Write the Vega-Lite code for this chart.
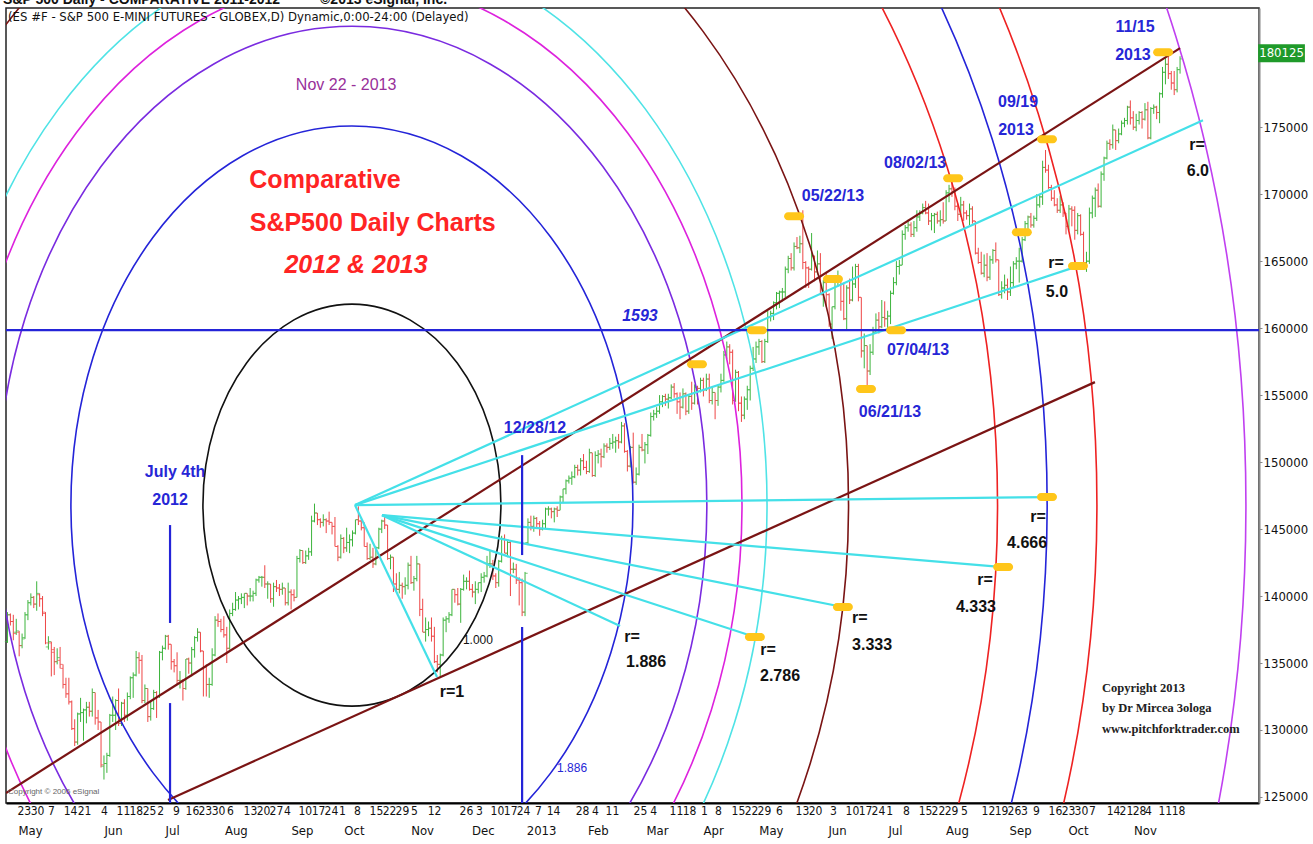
{
"$schema": "https://vega.github.io/schema/vega-lite/v6.json",
"width": 1253, "height": 795,
"autosize": {"type": "none"},
"padding": {"left": 6, "top": 8, "right": 54, "bottom": 41},
"background": "white",
"config": {"view": {"stroke": "#222", "strokeWidth": 1.5}, "axis": {"grid": false}, "font": "Liberation Sans"},
"datasets": {
"bars": [
{"i":-33,"o":1366,"h":1388,"l":1365,"c":1386},{"i":-32,"o":1386,"h":1387,"l":1378,"c":1381},{"i":-31,"o":1381,"h":1386,"l":1367,"c":1372},{"i":-30,"o":1373,"h":1383,"l":1371,"c":1374},{"i":-29,"o":1373,"h":1374,"l":1355,"c":1363},{"i":-28,"o":1363,"h":1372,"l":1361,"c":1368},{"i":-27,"o":1369,"h":1388,"l":1368,"c":1386},{"i":-26,"o":1386,"h":1397,"l":1382,"c":1395},{"i":-25,"o":1395,"h":1402,"l":1393,"c":1399},{"i":-24,"o":1399,"h":1400,"l":1391,"c":1394},
{"i":-23,"o":1394,"h":1411,"l":1389,"c":1402},{"i":-22,"o":1401,"h":1402,"l":1392,"c":1398},{"i":-21,"o":1398,"h":1400,"l":1385,"c":1388},{"i":-20,"o":1387,"h":1388,"l":1364,"c":1365},{"i":-19,"o":1362,"h":1370,"l":1360,"c":1366},{"i":-18,"o":1365,"h":1366,"l":1340,"c":1360},{"i":-17,"o":1358,"h":1362,"l":1341,"c":1351},{"i":-16,"o":1351,"h":1361,"l":1349,"c":1354},{"i":-15,"o":1352,"h":1362,"l":1346,"c":1349},{"i":-14,"o":1346,"h":1349,"l":1331,"c":1334},
{"i":-13,"o":1334,"h":1339,"l":1324,"c":1327},{"i":-12,"o":1327,"h":1339,"l":1319,"c":1321},{"i":-11,"o":1321,"h":1322,"l":1300,"c":1301},{"i":-10,"o":1301,"h":1308,"l":1288,"c":1291},{"i":-9,"o":1291,"h":1313,"l":1289,"c":1312},{"i":-8,"o":1312,"h":1324,"l":1306,"c":1313},{"i":-7,"o":1313,"h":1316,"l":1292,"c":1315},{"i":-6,"o":1315,"h":1321,"l":1305,"c":1317},{"i":-5,"o":1317,"h":1321,"l":1310,"c":1314},{"i":-4,"o":1314,"h":1331,"l":1310,"c":1328},
{"i":-3,"o":1328,"h":1328,"l":1304,"c":1309},{"i":-2,"o":1309,"h":1315,"l":1300,"c":1306},{"i":-1,"o":1306,"h":1306,"l":1272,"c":1274},{"i":0,"o":1273,"h":1281,"l":1263,"c":1275},{"i":1,"o":1275,"h":1283,"l":1268,"c":1281},{"i":2,"o":1281,"h":1312,"l":1280,"c":1311},{"i":3,"o":1311,"h":1325,"l":1306,"c":1311},{"i":4,"o":1311,"h":1323,"l":1300,"c":1322},{"i":5,"o":1322,"h":1331,"l":1303,"c":1305},{"i":6,"o":1305,"h":1321,"l":1303,"c":1320},
{"i":7,"o":1320,"h":1323,"l":1306,"c":1311},{"i":8,"o":1311,"h":1328,"l":1307,"c":1325},{"i":9,"o":1325,"h":1340,"l":1323,"c":1339},{"i":10,"o":1339,"h":1343,"l":1324,"c":1341},{"i":11,"o":1341,"h":1359,"l":1340,"c":1354},{"i":12,"o":1354,"h":1358,"l":1342,"c":1352},{"i":13,"o":1352,"h":1356,"l":1320,"c":1322},{"i":14,"o":1322,"h":1334,"l":1320,"c":1331},{"i":15,"o":1331,"h":1331,"l":1306,"c":1310},{"i":16,"o":1310,"h":1321,"l":1307,"c":1316},
{"i":17,"o":1316,"h":1330,"l":1315,"c":1328},{"i":18,"o":1328,"h":1329,"l":1309,"c":1325},{"i":19,"o":1325,"h":1359,"l":1324,"c":1358},{"i":20,"o":1358,"h":1363,"l":1352,"c":1361},{"i":21,"o":1361,"h":1371,"l":1360,"c":1370},{"i":22,"o":1370,"h":1371,"l":1360,"c":1364},{"i":23,"o":1364,"h":1364,"l":1345,"c":1351},{"i":24,"o":1351,"h":1353,"l":1343,"c":1348},{"i":25,"o":1348,"h":1358,"l":1334,"c":1337},{"i":26,"o":1337,"h":1344,"l":1331,"c":1337},
{"i":27,"o":1337,"h":1338,"l":1322,"c":1331},{"i":28,"o":1331,"h":1353,"l":1330,"c":1353},{"i":29,"o":1353,"h":1354,"l":1342,"c":1350},{"i":30,"o":1350,"h":1362,"l":1340,"c":1360},{"i":31,"o":1360,"h":1370,"l":1354,"c":1369},{"i":32,"o":1369,"h":1376,"l":1366,"c":1373},{"i":33,"o":1373,"h":1373,"l":1358,"c":1359},{"i":34,"o":1359,"h":1359,"l":1325,"c":1347},{"i":35,"o":1347,"h":1349,"l":1325,"c":1334},{"i":36,"o":1334,"h":1339,"l":1324,"c":1334},
{"i":37,"o":1334,"h":1361,"l":1333,"c":1356},{"i":38,"o":1356,"h":1385,"l":1355,"c":1382},{"i":39,"o":1382,"h":1387,"l":1377,"c":1381},{"i":40,"o":1381,"h":1383,"l":1373,"c":1375},{"i":41,"o":1375,"h":1385,"l":1369,"c":1371},{"i":42,"o":1371,"h":1377,"l":1350,"c":1361},{"i":43,"o":1361,"h":1390,"l":1360,"c":1387},{"i":44,"o":1387,"h":1395,"l":1385,"c":1390},{"i":45,"o":1390,"h":1403,"l":1389,"c":1397},{"i":46,"o":1397,"h":1400,"l":1390,"c":1398},
{"i":47,"o":1398,"h":1402,"l":1394,"c":1399},{"i":48,"o":1399,"h":1402,"l":1391,"c":1402},{"i":49,"o":1402,"h":1402,"l":1393,"c":1400},{"i":50,"o":1400,"h":1406,"l":1396,"c":1400},{"i":51,"o":1400,"h":1404,"l":1396,"c":1402},{"i":52,"o":1402,"h":1413,"l":1400,"c":1412},{"i":53,"o":1412,"h":1415,"l":1410,"c":1414},{"i":54,"o":1414,"h":1415,"l":1407,"c":1414},{"i":55,"o":1414,"h":1423,"l":1406,"c":1409},{"i":56,"o":1409,"h":1411,"l":1398,"c":1409},
{"i":57,"o":1409,"h":1409,"l":1395,"c":1398},{"i":58,"o":1398,"h":1410,"l":1392,"c":1407},{"i":59,"o":1407,"h":1412,"l":1403,"c":1406},{"i":60,"o":1406,"h":1409,"l":1400,"c":1405},{"i":61,"o":1405,"h":1410,"l":1401,"c":1406},{"i":62,"o":1406,"h":1406,"l":1393,"c":1395},{"i":63,"o":1395,"h":1410,"l":1393,"c":1403},{"i":64,"o":1403,"h":1405,"l":1390,"c":1401},{"i":65,"o":1401,"h":1405,"l":1396,"c":1399},{"i":66,"o":1399,"h":1430,"l":1399,"c":1428},
{"i":67,"o":1428,"h":1435,"l":1425,"c":1434},{"i":68,"o":1434,"h":1434,"l":1424,"c":1425},{"i":69,"o":1425,"h":1434,"l":1424,"c":1430},{"i":70,"o":1430,"h":1436,"l":1427,"c":1433},{"i":71,"o":1433,"h":1460,"l":1430,"c":1456},{"i":72,"o":1456,"h":1469,"l":1455,"c":1462},{"i":73,"o":1462,"h":1462,"l":1453,"c":1457},{"i":74,"o":1457,"h":1458,"l":1451,"c":1455},{"i":75,"o":1455,"h":1461,"l":1452,"c":1457},{"i":76,"o":1457,"h":1458,"l":1447,"c":1456},
{"i":77,"o":1456,"h":1463,"l":1453,"c":1455},{"i":78,"o":1455,"h":1455,"l":1446,"c":1452},{"i":79,"o":1452,"h":1459,"l":1437,"c":1437},{"i":80,"o":1437,"h":1438,"l":1426,"c":1429},{"i":81,"o":1429,"h":1446,"l":1428,"c":1443},{"i":82,"o":1443,"h":1444,"l":1432,"c":1436},{"i":83,"o":1436,"h":1451,"l":1433,"c":1440},{"i":84,"o":1440,"h":1446,"l":1432,"c":1442},{"i":85,"o":1442,"h":1449,"l":1437,"c":1447},{"i":86,"o":1447,"h":1457,"l":1446,"c":1457},
{"i":87,"o":1457,"h":1467,"l":1453,"c":1456},{"i":88,"o":1456,"h":1457,"l":1449,"c":1451},{"i":89,"o":1451,"h":1455,"l":1437,"c":1437},{"i":90,"o":1437,"h":1440,"l":1427,"c":1428},{"i":91,"o":1428,"h":1439,"l":1427,"c":1429},{"i":92,"o":1429,"h":1436,"l":1421,"c":1424},{"i":93,"o":1424,"h":1437,"l":1423,"c":1436},{"i":94,"o":1436,"h":1451,"l":1435,"c":1450},{"i":95,"o":1450,"h":1457,"l":1447,"c":1456},{"i":96,"o":1456,"h":1460,"l":1450,"c":1453},
{"i":97,"o":1453,"h":1453,"l":1427,"c":1428},{"i":98,"o":1428,"h":1431,"l":1420,"c":1429},{"i":99,"o":1429,"h":1429,"l":1403,"c":1409},{"i":100,"o":1409,"h":1417,"l":1403,"c":1405},{"i":101,"o":1405,"h":1418,"l":1402,"c":1408},{"i":102,"o":1408,"h":1410,"l":1398,"c":1407},{"i":103,"o":1407,"h":1414,"l":1401,"c":1408},{"i":104,"o":1408,"h":1425,"l":1405,"c":1423},{"i":105,"o":1423,"h":1430,"l":1409,"c":1410},{"i":106,"o":1410,"h":1415,"l":1404,"c":1413},
{"i":107,"o":1413,"h":1430,"l":1411,"c":1424},{"i":108,"o":1424,"h":1424,"l":1385,"c":1390},{"i":109,"o":1390,"h":1398,"l":1373,"c":1373},{"i":110,"o":1373,"h":1384,"l":1366,"c":1375},{"i":111,"o":1375,"h":1381,"l":1370,"c":1376},{"i":112,"o":1376,"h":1384,"l":1366,"c":1370},{"i":113,"o":1370,"h":1377,"l":1350,"c":1351},{"i":114,"o":1351,"h":1356,"l":1343,"c":1349},{"i":115,"o":1349,"h":1357,"l":1339,"c":1356},{"i":116,"o":1356,"h":1384,"l":1355,"c":1382},
{"i":117,"o":1382,"h":1385,"l":1373,"c":1383},{"i":118,"o":1383,"h":1388,"l":1380,"c":1386},{"i":119,"o":1386,"h":1405,"l":1385,"c":1405},{"i":120,"o":1405,"h":1405,"l":1395,"c":1401},{"i":121,"o":1401,"h":1406,"l":1393,"c":1394},{"i":122,"o":1394,"h":1406,"l":1380,"c":1405},{"i":123,"o":1405,"h":1416,"l":1404,"c":1411},{"i":124,"o":1411,"h":1414,"l":1405,"c":1411},{"i":125,"o":1411,"h":1419,"l":1404,"c":1405},{"i":126,"o":1405,"h":1409,"l":1399,"c":1403},
{"i":127,"o":1403,"h":1411,"l":1394,"c":1405},{"i":128,"o":1405,"h":1410,"l":1402,"c":1410},{"i":129,"o":1410,"h":1417,"l":1403,"c":1414},{"i":130,"o":1414,"h":1418,"l":1410,"c":1415},{"i":131,"o":1415,"h":1430,"l":1414,"c":1424},{"i":132,"o":1424,"h":1434,"l":1421,"c":1424},{"i":133,"o":1424,"h":1427,"l":1412,"c":1415},{"i":134,"o":1415,"h":1417,"l":1406,"c":1410},{"i":135,"o":1410,"h":1427,"l":1407,"c":1426},{"i":136,"o":1426,"h":1445,"l":1425,"c":1443},
{"i":137,"o":1443,"h":1446,"l":1432,"c":1432},{"i":138,"o":1432,"h":1441,"l":1429,"c":1440},{"i":139,"o":1440,"h":1441,"l":1400,"c":1420},{"i":140,"o":1420,"h":1425,"l":1417,"c":1420},{"i":141,"o":1420,"h":1424,"l":1409,"c":1412},{"i":142,"o":1412,"h":1414,"l":1393,"c":1410},{"i":143,"o":1410,"h":1413,"l":1385,"c":1388},{"i":144,"o":1388,"h":1418,"l":1385,"c":1417},{"i":145,"o":1440,"h":1458,"l":1438,"c":1455},{"i":146,"o":1455,"h":1460,"l":1449,"c":1452},
{"i":147,"o":1452,"h":1460,"l":1448,"c":1458},{"i":148,"o":1458,"h":1459,"l":1451,"c":1454},{"i":149,"o":1454,"h":1456,"l":1445,"c":1450},{"i":150,"o":1450,"h":1457,"l":1449,"c":1454},{"i":151,"o":1454,"h":1466,"l":1450,"c":1465},{"i":152,"o":1465,"h":1467,"l":1460,"c":1465},{"i":153,"o":1465,"h":1466,"l":1458,"c":1463},{"i":154,"o":1463,"h":1466,"l":1455,"c":1465},{"i":155,"o":1465,"h":1467,"l":1459,"c":1464},{"i":156,"o":1464,"h":1475,"l":1464,"c":1474},
{"i":157,"o":1474,"h":1480,"l":1470,"c":1480},{"i":158,"o":1480,"h":1487,"l":1476,"c":1486},{"i":159,"o":1486,"h":1490,"l":1484,"c":1488},{"i":160,"o":1488,"h":1493,"l":1483,"c":1489},{"i":161,"o":1489,"h":1498,"l":1488,"c":1496},{"i":162,"o":1496,"h":1498,"l":1490,"c":1494},{"i":163,"o":1494,"h":1503,"l":1490,"c":1501},{"i":164,"o":1501,"h":1506,"l":1494,"c":1496},{"i":165,"o":1496,"h":1501,"l":1491,"c":1493},{"i":166,"o":1493,"h":1510,"l":1492,"c":1507},
{"i":167,"o":1507,"h":1507,"l":1489,"c":1490},{"i":168,"o":1490,"h":1508,"l":1489,"c":1505},{"i":169,"o":1505,"h":1509,"l":1499,"c":1506},{"i":170,"o":1506,"h":1510,"l":1496,"c":1504},{"i":171,"o":1504,"h":1514,"l":1503,"c":1512},{"i":172,"o":1512,"h":1514,"l":1507,"c":1511},{"i":173,"o":1511,"h":1518,"l":1509,"c":1514},{"i":174,"o":1514,"h":1521,"l":1510,"c":1515},{"i":175,"o":1515,"h":1519,"l":1507,"c":1516},{"i":176,"o":1516,"h":1521,"l":1510,"c":1515},
{"i":177,"o":1515,"h":1530,"l":1514,"c":1527},{"i":178,"o":1527,"h":1529,"l":1507,"c":1508},{"i":179,"o":1508,"h":1509,"l":1493,"c":1497},{"i":180,"o":1497,"h":1512,"l":1496,"c":1511},{"i":181,"o":1511,"h":1522,"l":1484,"c":1485},{"i":182,"o":1485,"h":1496,"l":1483,"c":1491},{"i":183,"o":1491,"h":1513,"l":1490,"c":1511},{"i":184,"o":1511,"h":1521,"l":1508,"c":1509},{"i":185,"o":1509,"h":1515,"l":1499,"c":1513},{"i":186,"o":1513,"h":1521,"l":1506,"c":1520},
{"i":187,"o":1520,"h":1537,"l":1519,"c":1534},{"i":188,"o":1534,"h":1539,"l":1531,"c":1536},{"i":189,"o":1536,"h":1541,"l":1533,"c":1538},{"i":190,"o":1538,"h":1550,"l":1536,"c":1545},{"i":191,"o":1545,"h":1550,"l":1541,"c":1549},{"i":192,"o":1549,"h":1551,"l":1542,"c":1547},{"i":193,"o":1547,"h":1551,"l":1540,"c":1548},{"i":194,"o":1548,"h":1558,"l":1547,"c":1556},{"i":195,"o":1556,"h":1559,"l":1548,"c":1551},{"i":196,"o":1551,"h":1552,"l":1536,"c":1545},
{"i":197,"o":1545,"h":1552,"l":1532,"c":1541},{"i":198,"o":1541,"h":1555,"l":1540,"c":1551},{"i":199,"o":1551,"h":1552,"l":1535,"c":1538},{"i":200,"o":1538,"h":1550,"l":1536,"c":1549},{"i":201,"o":1549,"h":1560,"l":1539,"c":1544},{"i":202,"o":1544,"h":1558,"l":1543,"c":1556},{"i":203,"o":1556,"h":1557,"l":1543,"c":1555},{"i":204,"o":1555,"h":1563,"l":1552,"c":1561},{"i":205,"o":1561,"h":1563,"l":1549,"c":1554},{"i":206,"o":1554,"h":1566,"l":1553,"c":1562},
{"i":207,"o":1562,"h":1566,"l":1544,"c":1546},{"i":208,"o":1546,"h":1556,"l":1543,"c":1552},{"i":209,"o":1552,"h":1552,"l":1532,"c":1546},{"i":210,"o":1546,"h":1557,"l":1542,"c":1556},{"i":211,"o":1556,"h":1566,"l":1552,"c":1561},{"i":212,"o":1561,"h":1583,"l":1560,"c":1580},{"i":213,"o":1580,"h":1590,"l":1577,"c":1586},{"i":214,"o":1586,"h":1588,"l":1573,"c":1582},{"i":215,"o":1582,"h":1584,"l":1543,"c":1546},{"i":216,"o":1546,"h":1569,"l":1545,"c":1567},
{"i":217,"o":1567,"h":1568,"l":1538,"c":1544},{"i":218,"o":1544,"h":1549,"l":1530,"c":1535},{"i":219,"o":1535,"h":1549,"l":1532,"c":1547},{"i":220,"o":1547,"h":1557,"l":1539,"c":1554},{"i":221,"o":1554,"h":1572,"l":1546,"c":1570},{"i":222,"o":1570,"h":1586,"l":1568,"c":1577},{"i":223,"o":1577,"h":1590,"l":1574,"c":1586},{"i":224,"o":1586,"h":1592,"l":1580,"c":1590},{"i":225,"o":1590,"h":1591,"l":1574,"c":1575},{"i":226,"o":1575,"h":1592,"l":1574,"c":1590},
{"i":227,"o":1590,"h":1613,"l":1589,"c":1608},{"i":228,"o":1608,"h":1613,"l":1605,"c":1611},{"i":229,"o":1611,"h":1620,"l":1606,"c":1619},{"i":230,"o":1619,"h":1627,"l":1614,"c":1626},{"i":231,"o":1626,"h":1628,"l":1615,"c":1627},{"i":232,"o":1627,"h":1630,"l":1620,"c":1627},{"i":233,"o":1627,"h":1646,"l":1623,"c":1644},{"i":234,"o":1644,"h":1654,"l":1641,"c":1652},{"i":235,"o":1652,"h":1656,"l":1643,"c":1645},{"i":236,"o":1645,"h":1664,"l":1643,"c":1661},
{"i":237,"o":1661,"h":1668,"l":1659,"c":1660},{"i":238,"o":1660,"h":1669,"l":1656,"c":1663},{"i":239,"o":1663,"h":1688,"l":1644,"c":1649},{"i":240,"o":1649,"h":1650,"l":1630,"c":1645},{"i":241,"o":1645,"h":1646,"l":1630,"c":1644},{"i":242,"o":1644,"h":1671,"l":1643,"c":1654},{"i":243,"o":1654,"h":1654,"l":1635,"c":1642},{"i":244,"o":1642,"h":1658,"l":1640,"c":1648},{"i":245,"o":1648,"h":1656,"l":1625,"c":1625},{"i":246,"o":1625,"h":1636,"l":1616,"c":1634},
{"i":247,"o":1634,"h":1641,"l":1616,"c":1625},{"i":248,"o":1625,"h":1626,"l":1601,"c":1603},{"i":249,"o":1603,"h":1616,"l":1592,"c":1616},{"i":250,"o":1616,"h":1639,"l":1614,"c":1637},{"i":251,"o":1637,"h":1643,"l":1631,"c":1637},{"i":252,"o":1637,"h":1637,"l":1613,"c":1620},{"i":253,"o":1620,"h":1634,"l":1606,"c":1607},{"i":254,"o":1607,"h":1632,"l":1598,"c":1630},{"i":255,"o":1630,"h":1637,"l":1618,"c":1621},{"i":256,"o":1621,"h":1646,"l":1620,"c":1633},
{"i":257,"o":1633,"h":1648,"l":1630,"c":1646},{"i":258,"o":1646,"h":1648,"l":1620,"c":1623},{"i":259,"o":1623,"h":1623,"l":1578,"c":1583},{"i":260,"o":1583,"h":1596,"l":1570,"c":1587},{"i":261,"o":1587,"h":1587,"l":1553,"c":1568},{"i":262,"o":1568,"h":1588,"l":1565,"c":1582},{"i":263,"o":1582,"h":1601,"l":1580,"c":1597},{"i":264,"o":1597,"h":1611,"l":1597,"c":1606},{"i":265,"o":1606,"h":1612,"l":1596,"c":1601},{"i":266,"o":1601,"h":1621,"l":1600,"c":1608},
{"i":267,"o":1608,"h":1620,"l":1601,"c":1607},{"i":268,"o":1607,"h":1613,"l":1597,"c":1609},{"i":269,"o":1609,"h":1628,"l":1603,"c":1626},{"i":270,"o":1626,"h":1638,"l":1625,"c":1634},{"i":271,"o":1634,"h":1650,"l":1632,"c":1646},{"i":272,"o":1646,"h":1651,"l":1640,"c":1647},{"i":273,"o":1647,"h":1673,"l":1647,"c":1670},{"i":274,"o":1670,"h":1677,"l":1666,"c":1675},{"i":275,"o":1675,"h":1681,"l":1672,"c":1677},{"i":276,"o":1677,"h":1679,"l":1668,"c":1670},
{"i":277,"o":1670,"h":1680,"l":1668,"c":1675},{"i":278,"o":1675,"h":1688,"l":1672,"c":1683},{"i":279,"o":1683,"h":1688,"l":1680,"c":1686},{"i":280,"o":1686,"h":1693,"l":1685,"c":1690},{"i":281,"o":1690,"h":1695,"l":1685,"c":1686},{"i":282,"o":1686,"h":1693,"l":1677,"c":1680},{"i":283,"o":1680,"h":1686,"l":1673,"c":1684},{"i":284,"o":1684,"h":1686,"l":1671,"c":1685},{"i":285,"o":1685,"h":1687,"l":1678,"c":1680},{"i":286,"o":1680,"h":1688,"l":1676,"c":1681},
{"i":287,"o":1681,"h":1694,"l":1678,"c":1680},{"i":288,"o":1680,"h":1703,"l":1680,"c":1701},{"i":289,"o":1701,"h":1707,"l":1694,"c":1704},{"i":290,"o":1704,"h":1712,"l":1698,"c":1702},{"i":291,"o":1702,"h":1705,"l":1688,"c":1691},{"i":292,"o":1691,"h":1693,"l":1680,"c":1685},{"i":293,"o":1685,"h":1698,"l":1683,"c":1692},{"i":294,"o":1692,"h":1695,"l":1680,"c":1686},{"i":295,"o":1686,"h":1688,"l":1681,"c":1684},{"i":296,"o":1684,"h":1693,"l":1677,"c":1689},
{"i":297,"o":1689,"h":1691,"l":1678,"c":1680},{"i":298,"o":1680,"h":1680,"l":1655,"c":1656},{"i":299,"o":1656,"h":1660,"l":1648,"c":1649},{"i":300,"o":1649,"h":1657,"l":1640,"c":1641},{"i":301,"o":1641,"h":1655,"l":1638,"c":1647},{"i":302,"o":1647,"h":1656,"l":1635,"c":1638},{"i":303,"o":1638,"h":1654,"l":1636,"c":1651},{"i":304,"o":1651,"h":1659,"l":1648,"c":1658},{"i":305,"o":1658,"h":1664,"l":1649,"c":1651},{"i":306,"o":1651,"h":1651,"l":1624,"c":1625},
{"i":307,"o":1625,"h":1635,"l":1622,"c":1630},{"i":308,"o":1630,"h":1640,"l":1626,"c":1632},{"i":309,"o":1632,"h":1637,"l":1621,"c":1627},{"i":310,"o":1627,"h":1646,"l":1624,"c":1634},{"i":311,"o":1634,"h":1650,"l":1630,"c":1648},{"i":312,"o":1648,"h":1653,"l":1644,"c":1650},{"i":313,"o":1650,"h":1660,"l":1634,"c":1650},{"i":314,"o":1650,"h":1668,"l":1649,"c":1666},{"i":315,"o":1666,"h":1680,"l":1665,"c":1678},{"i":316,"o":1678,"h":1684,"l":1674,"c":1683},
{"i":317,"o":1683,"h":1686,"l":1675,"c":1677},{"i":318,"o":1677,"h":1684,"l":1675,"c":1682},{"i":319,"o":1682,"h":1700,"l":1680,"c":1692},{"i":320,"o":1692,"h":1700,"l":1690,"c":1698},{"i":321,"o":1698,"h":1725,"l":1692,"c":1720},{"i":322,"o":1720,"h":1733,"l":1716,"c":1718},{"i":323,"o":1718,"h":1722,"l":1704,"c":1705},{"i":324,"o":1705,"h":1707,"l":1695,"c":1697},{"i":325,"o":1697,"h":1703,"l":1691,"c":1692},{"i":326,"o":1692,"h":1697,"l":1686,"c":1688},
{"i":327,"o":1688,"h":1699,"l":1686,"c":1692},{"i":328,"o":1692,"h":1694,"l":1683,"c":1686},{"i":329,"o":1686,"h":1686,"l":1670,"c":1676},{"i":330,"o":1676,"h":1692,"l":1673,"c":1689},{"i":331,"o":1689,"h":1691,"l":1676,"c":1688},{"i":332,"o":1688,"h":1691,"l":1666,"c":1673},{"i":333,"o":1673,"h":1686,"l":1670,"c":1684},{"i":334,"o":1684,"h":1685,"l":1669,"c":1670},{"i":335,"o":1670,"h":1672,"l":1648,"c":1649},{"i":336,"o":1649,"h":1657,"l":1642,"c":1650},
{"i":337,"o":1650,"h":1690,"l":1648,"c":1686},{"i":338,"o":1686,"h":1699,"l":1682,"c":1697},{"i":339,"o":1697,"h":1705,"l":1683,"c":1703},{"i":340,"o":1703,"h":1708,"l":1690,"c":1691},{"i":341,"o":1691,"h":1717,"l":1690,"c":1715},{"i":342,"o":1715,"h":1728,"l":1710,"c":1727},{"i":343,"o":1727,"h":1740,"l":1726,"c":1738},{"i":344,"o":1738,"h":1741,"l":1733,"c":1737},{"i":345,"o":1737,"h":1752,"l":1734,"c":1748},{"i":346,"o":1748,"h":1748,"l":1733,"c":1740},
{"i":347,"o":1740,"h":1749,"l":1738,"c":1745},{"i":348,"o":1745,"h":1755,"l":1744,"c":1753},{"i":349,"o":1753,"h":1757,"l":1750,"c":1755},{"i":350,"o":1755,"h":1766,"l":1752,"c":1765},{"i":351,"o":1765,"h":1770,"l":1752,"c":1757},{"i":352,"o":1757,"h":1762,"l":1748,"c":1750},{"i":353,"o":1750,"h":1760,"l":1747,"c":1755},{"i":354,"o":1755,"h":1762,"l":1752,"c":1761},{"i":355,"o":1761,"h":1762,"l":1749,"c":1756},{"i":356,"o":1756,"h":1768,"l":1755,"c":1763},
{"i":357,"o":1763,"h":1769,"l":1741,"c":1742},{"i":358,"o":1742,"h":1765,"l":1741,"c":1764},{"i":359,"o":1764,"h":1767,"l":1760,"c":1765},{"i":360,"o":1765,"h":1766,"l":1756,"c":1761},{"i":361,"o":1761,"h":1776,"l":1753,"c":1775},{"i":362,"o":1775,"h":1795,"l":1772,"c":1791},{"i":363,"o":1791,"h":1802,"l":1782,"c":1797},{"i":364,"o":1797,"h":1803,"l":1786,"c":1790},{"i":365,"o":1790,"h":1792,"l":1778,"c":1783},{"i":366,"o":1783,"h":1792,"l":1774,"c":1778},
{"i":367,"o":1778,"h":1795,"l":1776,"c":1793},{"i":368,"o":1793,"h":1803,"l":1790,"c":1801}
],
"arcs": [
{"cx":84.8,"cy":1467.9,"r":1},{"cx":84.8,"cy":1467.9,"r":1.886},{"cx":84.8,"cy":1467.9,"r":2.382},{"cx":84.8,"cy":1467.9,"r":2.618},{"cx":84.8,"cy":1467.9,"r":2.786},{"cx":84.8,"cy":1467.9,"r":3.333},{"cx":84.8,"cy":1467.9,"r":4.333},{"cx":84.8,"cy":1467.9,"r":4.666},{"cx":84.8,"cy":1467.9,"r":5},{"cx":84.8,"cy":1467.9,"r":6}
],
"lines": [
{"kind":"median","x1":-33.5,"y1":1253.0,"x2":368.0,"y2":1809.0},
{"kind":"median","x1":21.9,"y1":1247.8,"x2":338.9,"y2":1559.7},
{"kind":"fan","x1":85.84,"y1":1467.9,"x2":375.85,"y2":1755.2},
{"kind":"fan","x1":85.84,"y1":1467.9,"x2":333.1,"y2":1646.3},
{"kind":"fan","x1":85.84,"y1":1467.9,"x2":322.5,"y2":1473.9},
{"kind":"fan","x1":95.08,"y1":1460.4,"x2":307.5,"y2":1421.6},
{"kind":"fan","x1":95.08,"y1":1460.4,"x2":252.7,"y2":1391.8},
{"kind":"fan","x1":95.08,"y1":1460.4,"x2":222.6,"y2":1369.4},
{"kind":"fan","x1":95.08,"y1":1460.4,"x2":176.5,"y2":1377.6},
{"kind":"fan","x1":85.84,"y1":1467.9,"x2":113.9,"y2":1339.6},
{"kind":"level","x1":-33.5,"y1":1598.5,"x2":395,"y2":1598.5},
{"kind":"level","x1":22.6,"y1":1245.5,"x2":22.6,"y2":1320.1},
{"kind":"level","x1":22.6,"y1":1379.9,"x2":22.6,"y2":1453.0},
{"kind":"level","x1":143,"y1":1245.5,"x2":143,"y2":1376.9},
{"kind":"level","x1":143,"y1":1430.6,"x2":143,"y2":1505.2}
],
"pins": [
{"i":223.3,"p":1598.5},{"i":202.8,"p":1573.1},{"i":236.0,"p":1683.6},{"i":249.3,"p":1636.6},{"i":260.6,"p":1554.5},{"i":270.9,"p":1598.5},{"i":290.4,"p":1711.9},{"i":313.9,"p":1671.6},{"i":322.5,"p":1741.0},{"i":333.1,"p":1646.3},{"i":362.2,"p":1806.0},{"i":322.5,"p":1473.9},{"i":307.5,"p":1421.6},{"i":252.7,"p":1391.8},{"i":222.6,"p":1369.4}
],
"labels": [
{"g":"d","x":24.3,"y":1492.5,"t":"July 4th"},{"g":"d","x":22.6,"y":1471.6,"t":"2012"},{"g":"d","x":147.4,"y":1525.4,"t":"12/28/12"},{"g":"d","x":249.3,"y":1698.5,"t":"05/22/13"},{"g":"d","x":268.8,"y":1537.3,"t":"06/21/13"},{"g":"d","x":278.4,"y":1583.6,"t":"07/04/13"},{"g":"d","x":277.4,"y":1723.1,"t":"08/02/13"},{"g":"d","x":312.6,"y":1768.7,"t":"09/19"},{"g":"d","x":311.9,"y":1747.8,"t":"2013"},{"g":"d","x":352.6,"y":1824.6,"t":"11/15"},{"g":"d","x":351.9,"y":1803.7,"t":"2013"},
{"g":"r","x":373.8,"y":1736.6,"t":"r="},{"g":"r","x":374.1,"y":1717.2,"t":"6.0"},{"g":"r","x":325.6,"y":1648.5,"t":"r="},{"g":"r","x":325.9,"y":1626.9,"t":"5.0"},{"g":"r","x":319.4,"y":1459.0,"t":"r="},{"g":"r","x":315.7,"y":1439.6,"t":"4.666"},{"g":"r","x":301.3,"y":1411.9,"t":"r="},{"g":"r","x":298.2,"y":1391.8,"t":"4.333"},{"g":"r","x":258.5,"y":1383.6,"t":"r="},{"g":"r","x":262.7,"y":1363.4,"t":"3.333"},{"g":"r","x":227.1,"y":1359.7,"t":"r="},{"g":"r","x":231.2,"y":1340.3,"t":"2.786"},{"g":"r","x":180.6,"y":1369.4,"t":"r="},{"g":"r","x":185.4,"y":1350.7,"t":"1.886"},{"g":"r","x":119.0,"y":1328.4,"t":"r=1"},
{"g":"t","x":75.6,"y":1710.4,"t":"Comparative"},{"g":"t","x":91.9,"y":1678.4,"t":"S&P500 Daily Charts"},{"g":"ti","x":86.2,"y":1647.0,"t":"2012 & 2013"},
{"g":"nov","x":82.8,"y":1781.3,"t":"Nov 22 - 2013"},{"g":"lvl","x":183.3,"y":1609.0,"t":"1593"},
{"g":"s1","x":127.9,"y":1367.2,"t":"1.000"},{"g":"s2","x":160.1,"y":1271.6,"t":"1.886"},
{"g":"cp","x":341.3,"y":1331.3,"t":"Copyright 2013"},{"g":"cp","x":341.3,"y":1316.4,"t":"by Dr Mircea 3ologa"},{"g":"cp","x":341.3,"y":1300.7,"t":"www.pitchforktrader.com"},
{"g":"hd","x":-32.8,"y":1832.1,"t":"(ES #F - S&P 500 E-MINI FUTURES - GLOBEX,D) Dynamic,0:00-24:00 (Delayed)"},
{"g":"top","x":-34.5,"y":1842.2,"t":"S&P 500 Daily - COMPARATIVE 2011-2012"},{"g":"top","x":73.9,"y":1842.2,"t":"©2013 eSignal, Inc."},
{"g":"es","x":-32.8,"y":1253.5,"t":"Copyright © 2006 eSignal"},
{"g":"px","x":402.7,"y":1805.2,"t":"180125"}
],
"box": [{"x":394.7,"x2":410.7,"y":1798.5,"y2":1811.9}]
},
"resolve": {"axis": {"x": "independent", "y": "independent"}, "scale": {"color": "independent", "size": "independent"}},
"layer": [
{"data": {"name": "bars"}, "mark": {"type": "rule", "strokeWidth": 1},
 "encoding": {
  "x": {"field": "i", "type": "quantitative", "scale": {"domain": [-33.5, 395], "nice": false, "zero": false},
   "axis": {"orient": "bottom", "title": null, "ticks": false, "domain": true, "domainColor": "#000", "domainWidth": 2, "labelFont": "DejaVu Sans Condensed, Liberation Sans Narrow, sans-serif", "labelFontSize": 12, "labelColor": "#111", "labelPadding": 2, "labelOverlap": false, "labelFlush": false, "labelBound": false, "labelAlign": "center", "labelBaseline": "top",
    "values": [-27.4,-22.9,-18.1,-11.6,-6.8,0,6.5,10.9,15.4,19.2,24.6,30.1,34.5,39,43.1,49.9,54.4,58.8,62.6,68.7,73.2,77.6,81.4,86.5,93,97.5,101.9,106,112.9,123.8,128.2,134.4,138.9,143.3,148.4,153.6,163.5,167.9,173.7,183.3,187.8,195.6,200.1,205.2,210,216.8,221.3,225.7,230.8,238.7,243.2,249.3,255.8,260.3,264.7,268.5,274.3,280.8,285.2,289.7,294.1,302.3,306.8,311.2,314.6,318.7,325.2,329.7,334.1,337.9,345.1,349.5,354,357,362.8,367.3],
    "labelExpr": "['23','30','7','14','21','4','11','18','25','2','9','16','23','30','6','13','20','27','4','10','17','24','1','8','15','22','29','5','12','26','3','10','17','24','7','14','28','4','11','25','4','11','18','1','8','15','22','29','6','13','20','3','10','17','24','1','8','15','22','29','5','12','19','26','3','9','16','23','30','7','14','21','28','4','11','18'][indexof([-27.4,-22.9,-18.1,-11.6,-6.8,0,6.5,10.9,15.4,19.2,24.6,30.1,34.5,39,43.1,49.9,54.4,58.8,62.6,68.7,73.2,77.6,81.4,86.5,93,97.5,101.9,106,112.9,123.8,128.2,134.4,138.9,143.3,148.4,153.6,163.5,167.9,173.7,183.3,187.8,195.6,200.1,205.2,210,216.8,221.3,225.7,230.8,238.7,243.2,249.3,255.8,260.3,264.7,268.5,274.3,280.8,285.2,289.7,294.1,302.3,306.8,311.2,314.6,318.7,325.2,329.7,334.1,337.9,345.1,349.5,354,357,362.8,367.3], datum.value)]"}},
  "y": {"field": "l", "type": "quantitative", "scale": {"domain": [1245.5, 1839], "nice": false, "zero": false},
   "axis": {"orient": "right", "title": null, "values": [1250,1300,1350,1400,1450,1500,1550,1600,1650,1700,1750], "labelExpr": "format(datum.value*100, 'd')", "tickSize": 3, "tickColor": "#888", "domainColor": "#888", "domainWidth": 2, "labelFont": "DejaVu Sans Condensed, Liberation Sans Narrow, sans-serif", "labelFontSize": 13, "labelColor": "#111", "labelPadding": 1}},
  "y2": {"field": "h"},
  "color": {"condition": {"test": "datum.c >= datum.o", "value": "#3cb43c"}, "value": "#ee4545"}
 }},
{"data": {"name": "bars"}, "mark": {"type": "tick", "orient": "horizontal", "size": 2.5, "thickness": 1, "xOffset": -1.4},
 "encoding": {
  "x": {"field": "i", "type": "quantitative", "scale": {"domain": [-33.5, 395], "nice": false, "zero": false}, "axis": null},
  "y": {"field": "o", "type": "quantitative", "scale": {"domain": [1245.5, 1839], "nice": false, "zero": false}, "axis": null},
  "color": {"condition": {"test": "datum.c >= datum.o", "value": "#3cb43c"}, "value": "#ee4545"}
 }},
{"data": {"name": "bars"}, "mark": {"type": "tick", "orient": "horizontal", "size": 2.5, "thickness": 1, "xOffset": 1.4},
 "encoding": {
  "x": {"field": "i", "type": "quantitative", "scale": {"domain": [-33.5, 395], "nice": false, "zero": false}, "axis": null},
  "y": {"field": "c", "type": "quantitative", "scale": {"domain": [1245.5, 1839], "nice": false, "zero": false}, "axis": null},
  "color": {"condition": {"test": "datum.c >= datum.o", "value": "#3cb43c"}, "value": "#ee4545"}
 }},
{"data": {"name": "arcs"}, "mark": {"type": "point", "shape": "M-1,0C-1,-0.745,-0.552,-1.349,0,-1.349C0.552,-1.349,1,-0.745,1,0C1,0.745,0.552,1.349,0,1.349C-0.552,1.349,-1,0.745,-1,0Z", "filled": false, "strokeWidth": 1.6, "opacity": 1, "clip": true},
 "encoding": {
  "x": {"field": "cx", "type": "quantitative", "scale": {"domain": [-33.5, 395], "nice": false, "zero": false}, "axis": null},
  "y": {"field": "cy", "type": "quantitative", "scale": {"domain": [1245.5, 1839], "nice": false, "zero": false}, "axis": null},
  "size": {"field": "r", "type": "quantitative", "scale": {"type": "pow", "exponent": 2, "domain": [0, 6], "range": [0, 3196944]}, "legend": null},
  "color": {"field": "r", "type": "nominal", "scale": {"domain": [1, 1.886, 2.382, 2.618, 2.786, 3.333, 4.333, 4.666, 5, 6], "range": ["#111111", "#2424d8", "#7a2be0", "#dd22dd", "#4fe3e6", "#7a1414", "#ee2222", "#2424d8", "#ee2222", "#c040f0"]}, "legend": null}
 }},
{"data": {"name": "lines"}, "mark": {"type": "rule", "strokeWidth": 2.2, "clip": true},
 "encoding": {
  "x": {"field": "x1", "type": "quantitative", "scale": {"domain": [-33.5, 395], "nice": false, "zero": false}, "axis": null},
  "y": {"field": "y1", "type": "quantitative", "scale": {"domain": [1245.5, 1839], "nice": false, "zero": false}, "axis": null},
  "x2": {"field": "x2"}, "y2": {"field": "y2"},
  "color": {"field": "kind", "type": "nominal", "scale": {"domain": ["median", "fan", "level"], "range": ["#7a1414", "#44e0e8", "#2424d8"]}, "legend": null}
 }},
{"data": {"name": "pins"}, "mark": {"type": "tick", "orient": "horizontal", "size": 20, "thickness": 8, "cornerRadius": 4, "color": "#ffc61a", "opacity": 1},
 "encoding": {
  "x": {"field": "i", "type": "quantitative", "scale": {"domain": [-33.5, 395], "nice": false, "zero": false},
   "axis": {"orient": "bottom", "title": null, "ticks": false, "domain": false, "labelFont": "DejaVu Sans Condensed, Liberation Sans Narrow, sans-serif", "labelFontSize": 13, "labelColor": "#111", "labelPadding": 21, "labelOverlap": false, "labelFlush": false, "labelBound": false, "labelAlign": "center", "labelBaseline": "top",
    "values": [-25.3,3.1,23.3,45.1,67.7,85.5,108.8,129.6,149.5,168.9,189.1,208.3,228.1,250.7,270.5,291.7,313.3,333.1,356],
    "labelExpr": "['May','Jun','Jul','Aug','Sep','Oct','Nov','Dec','2013','Feb','Mar','Apr','May','Jun','Jul','Aug','Sep','Oct','Nov'][indexof([-25.3,3.1,23.3,45.1,67.7,85.5,108.8,129.6,149.5,168.9,189.1,208.3,228.1,250.7,270.5,291.7,313.3,333.1,356], datum.value)]"}},
  "y": {"field": "p", "type": "quantitative", "scale": {"domain": [1245.5, 1839], "nice": false, "zero": false}, "axis": null}
 }},
{"data": {"name": "box"}, "mark": {"type": "rect", "color": "#1f9a2a", "clip": false},
 "encoding": {
  "x": {"field": "x", "type": "quantitative", "scale": {"domain": [-33.5, 395], "nice": false, "zero": false}, "axis": null},
  "x2": {"field": "x2"},
  "y": {"field": "y", "type": "quantitative", "scale": {"domain": [1245.5, 1839], "nice": false, "zero": false}, "axis": null},
  "y2": {"field": "y2"}
 }},
{"data": {"name": "labels"}, "transform": [{"filter": "datum.g === 'd'"}], "mark": {"type": "text", "font": "Liberation Sans", "fontWeight": "bold", "fontSize": 16, "color": "#2626d6", "align": "center", "baseline": "middle"},
 "encoding": {"x": {"field": "x", "type": "quantitative", "scale": {"domain": [-33.5, 395], "nice": false, "zero": false}, "axis": null}, "y": {"field": "y", "type": "quantitative", "scale": {"domain": [1245.5, 1839], "nice": false, "zero": false}, "axis": null}, "text": {"field": "t"}}},
{"data": {"name": "labels"}, "transform": [{"filter": "datum.g === 'r'"}], "mark": {"type": "text", "font": "Liberation Sans", "fontWeight": "bold", "fontSize": 16, "color": "#111111", "align": "center", "baseline": "middle"},
 "encoding": {"x": {"field": "x", "type": "quantitative", "scale": {"domain": [-33.5, 395], "nice": false, "zero": false}, "axis": null}, "y": {"field": "y", "type": "quantitative", "scale": {"domain": [1245.5, 1839], "nice": false, "zero": false}, "axis": null}, "text": {"field": "t"}}},
{"data": {"name": "labels"}, "transform": [{"filter": "datum.g === 't'"}], "mark": {"type": "text", "font": "Liberation Sans", "fontWeight": "bold", "fontSize": 25, "color": "#ff2424", "align": "center", "baseline": "middle"},
 "encoding": {"x": {"field": "x", "type": "quantitative", "scale": {"domain": [-33.5, 395], "nice": false, "zero": false}, "axis": null}, "y": {"field": "y", "type": "quantitative", "scale": {"domain": [1245.5, 1839], "nice": false, "zero": false}, "axis": null}, "text": {"field": "t"}}},
{"data": {"name": "labels"}, "transform": [{"filter": "datum.g === 'ti'"}], "mark": {"type": "text", "font": "Liberation Sans", "fontWeight": "bold", "fontStyle": "italic", "fontSize": 25, "color": "#ff2424", "align": "center", "baseline": "middle"},
 "encoding": {"x": {"field": "x", "type": "quantitative", "scale": {"domain": [-33.5, 395], "nice": false, "zero": false}, "axis": null}, "y": {"field": "y", "type": "quantitative", "scale": {"domain": [1245.5, 1839], "nice": false, "zero": false}, "axis": null}, "text": {"field": "t"}}},
{"data": {"name": "labels"}, "transform": [{"filter": "datum.g === 'nov'"}], "mark": {"type": "text", "font": "Liberation Sans", "fontSize": 16, "color": "#98309a", "align": "center", "baseline": "middle"},
 "encoding": {"x": {"field": "x", "type": "quantitative", "scale": {"domain": [-33.5, 395], "nice": false, "zero": false}, "axis": null}, "y": {"field": "y", "type": "quantitative", "scale": {"domain": [1245.5, 1839], "nice": false, "zero": false}, "axis": null}, "text": {"field": "t"}}},
{"data": {"name": "labels"}, "transform": [{"filter": "datum.g === 'lvl'"}], "mark": {"type": "text", "font": "Liberation Sans", "fontWeight": "bold", "fontStyle": "italic", "fontSize": 16, "color": "#2626d6", "align": "center", "baseline": "middle"},
 "encoding": {"x": {"field": "x", "type": "quantitative", "scale": {"domain": [-33.5, 395], "nice": false, "zero": false}, "axis": null}, "y": {"field": "y", "type": "quantitative", "scale": {"domain": [1245.5, 1839], "nice": false, "zero": false}, "axis": null}, "text": {"field": "t"}}},
{"data": {"name": "labels"}, "transform": [{"filter": "datum.g === 's1'"}], "mark": {"type": "text", "font": "Liberation Sans", "fontSize": 12, "color": "#111111", "align": "center", "baseline": "middle"},
 "encoding": {"x": {"field": "x", "type": "quantitative", "scale": {"domain": [-33.5, 395], "nice": false, "zero": false}, "axis": null}, "y": {"field": "y", "type": "quantitative", "scale": {"domain": [1245.5, 1839], "nice": false, "zero": false}, "axis": null}, "text": {"field": "t"}}},
{"data": {"name": "labels"}, "transform": [{"filter": "datum.g === 's2'"}], "mark": {"type": "text", "font": "Liberation Sans", "fontSize": 12, "color": "#2626d6", "align": "center", "baseline": "middle"},
 "encoding": {"x": {"field": "x", "type": "quantitative", "scale": {"domain": [-33.5, 395], "nice": false, "zero": false}, "axis": null}, "y": {"field": "y", "type": "quantitative", "scale": {"domain": [1245.5, 1839], "nice": false, "zero": false}, "axis": null}, "text": {"field": "t"}}},
{"data": {"name": "labels"}, "transform": [{"filter": "datum.g === 'cp'"}], "mark": {"type": "text", "font": "Liberation Serif", "fontWeight": "bold", "fontSize": 12.5, "color": "#222222", "align": "left", "baseline": "middle"},
 "encoding": {"x": {"field": "x", "type": "quantitative", "scale": {"domain": [-33.5, 395], "nice": false, "zero": false}, "axis": null}, "y": {"field": "y", "type": "quantitative", "scale": {"domain": [1245.5, 1839], "nice": false, "zero": false}, "axis": null}, "text": {"field": "t"}}},
{"data": {"name": "labels"}, "transform": [{"filter": "datum.g === 'hd'"}], "mark": {"type": "text", "font": "DejaVu Sans Condensed, Liberation Sans Narrow, sans-serif", "fontSize": 13, "color": "#111111", "align": "left", "baseline": "middle"},
 "encoding": {"x": {"field": "x", "type": "quantitative", "scale": {"domain": [-33.5, 395], "nice": false, "zero": false}, "axis": null}, "y": {"field": "y", "type": "quantitative", "scale": {"domain": [1245.5, 1839], "nice": false, "zero": false}, "axis": null}, "text": {"field": "t"}}},
{"data": {"name": "labels"}, "transform": [{"filter": "datum.g === 'top'"}], "mark": {"type": "text", "font": "Liberation Sans", "fontWeight": "bold", "fontSize": 14, "color": "#111111", "align": "left", "baseline": "alphabetic", "clip": false},
 "encoding": {"x": {"field": "x", "type": "quantitative", "scale": {"domain": [-33.5, 395], "nice": false, "zero": false}, "axis": null}, "y": {"field": "y", "type": "quantitative", "scale": {"domain": [1245.5, 1839], "nice": false, "zero": false}, "axis": null}, "text": {"field": "t"}}},
{"data": {"name": "labels"}, "transform": [{"filter": "datum.g === 'es'"}], "mark": {"type": "text", "font": "Liberation Sans", "fontSize": 8, "color": "#666666", "align": "left", "baseline": "middle"},
 "encoding": {"x": {"field": "x", "type": "quantitative", "scale": {"domain": [-33.5, 395], "nice": false, "zero": false}, "axis": null}, "y": {"field": "y", "type": "quantitative", "scale": {"domain": [1245.5, 1839], "nice": false, "zero": false}, "axis": null}, "text": {"field": "t"}}},
{"data": {"name": "labels"}, "transform": [{"filter": "datum.g === 'px'"}], "mark": {"type": "text", "font": "DejaVu Sans Condensed, Liberation Sans Narrow, sans-serif", "fontSize": 13, "color": "#ffffff", "align": "center", "baseline": "middle", "clip": false},
 "encoding": {"x": {"field": "x", "type": "quantitative", "scale": {"domain": [-33.5, 395], "nice": false, "zero": false}, "axis": null}, "y": {"field": "y", "type": "quantitative", "scale": {"domain": [1245.5, 1839], "nice": false, "zero": false}, "axis": null}, "text": {"field": "t"}}}
]
}
